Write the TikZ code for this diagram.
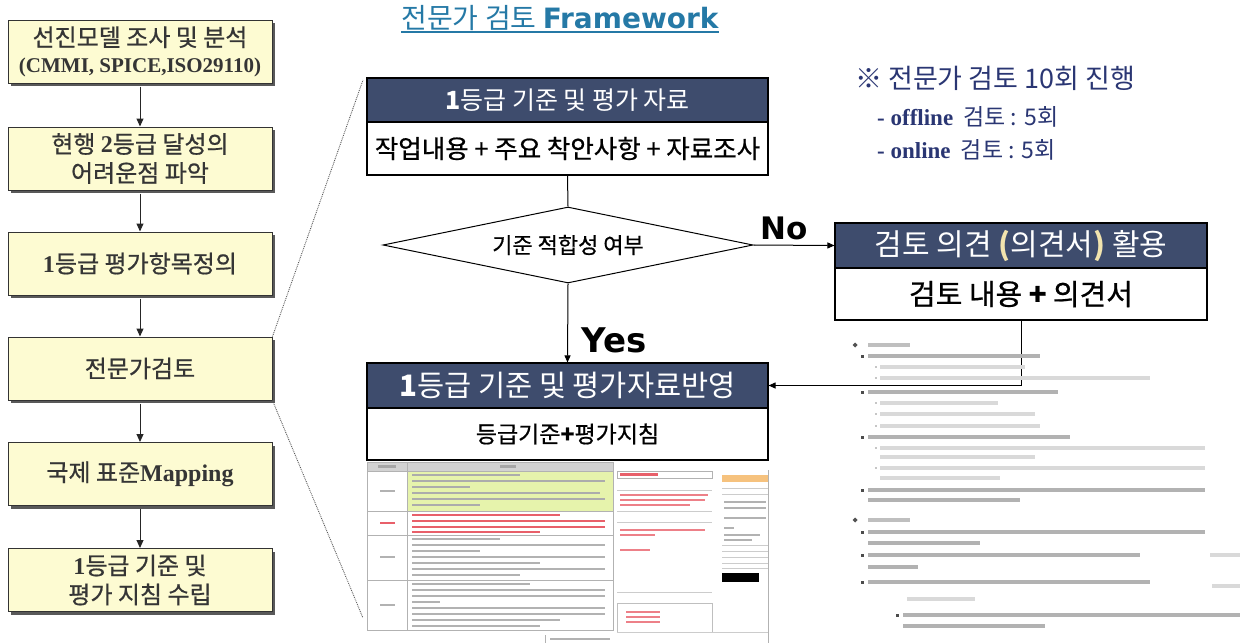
\documentclass[tikz,border=0pt]{standalone}
\usepackage{fontspec}
\setmainfont{Noto Sans CJK KR}
\newfontfamily\krmed{Noto Sans CJK KR}[FakeBold=0.7]
\newfontfamily\lserif{Liberation Serif}
\newfontfamily\verd{DejaVu Sans}
\usetikzlibrary{arrows.meta,shapes.geometric,shadows,calc}

\definecolor{boxyellow}{HTML}{FDFBD2}
\definecolor{boxtext}{HTML}{353535}
\definecolor{hdrblue}{HTML}{3E4C6D}
\definecolor{titleblue}{HTML}{2579A6}
\definecolor{notenavy}{HTML}{2A3673}
\definecolor{rowgreen}{HTML}{E6F3AC}
\definecolor{docred}{HTML}{E8606A}
\definecolor{orangebar}{HTML}{F6C27E}
\definecolor{parengold}{HTML}{F2E4AE}

% a blurred line of small print: [colour]{x1}{x2}{y}
\newcommand{\docbar}[4][gray!55]{\fill[#1] (#2,#4-1.3) rectangle (#3,#4+1.3);}
% a slightly heavier line of print for the opinion sheet
\newcommand{\notebar}[4][gray!55]{\fill[#1] (#2,#4-1.9) rectangle (#3,#4+1.9);}

\tikzset{
  stepbox/.style={draw=black!80, line width=1pt, fill=boxyellow,
    minimum width=264pt, minimum height=63pt, inner sep=0pt, align=center,
    text=boxtext, font=\krmed\fontsize{24}{29}\selectfont,
    drop shadow={shadow xshift=3pt, shadow yshift=-3pt, fill=black!65, opacity=1}},
  flowarrow/.style={-{Triangle[length=8pt,width=7pt]}, line width=1pt, black!85},
  linkarrow/.style={-{Triangle[length=7pt,width=6pt]}, line width=1pt, black},
  hdrbox/.style={draw=black, line width=1.1pt, fill=hdrblue, text=white,
    inner sep=0pt, minimum width=401pt, minimum height=44pt},
  bodybox/.style={draw=black, line width=1.1pt, fill=white, text=black,
    inner sep=0pt, minimum width=401pt},
  zoomline/.style={densely dotted, line width=0.9pt, gray!70!black},
  tbl/.style={draw=gray!60, line width=0.6pt},
}

\begin{document}
\begin{tikzpicture}[x=1pt,y=-1pt]
\useasboundingbox (0,0) rectangle (1252,643);

% ---------- process steps (left column) ----------
\node[stepbox] (s1) at (140,51.5) {선진모델 조사 및 분석\\[-3pt]{\lserif\bfseries\fontsize{21}{24}\selectfont (CMMI, SPICE,ISO29110)}};
\node[stepbox] (s2) at (140,158.5) {현행 {\lserif\bfseries 2}등급 달성의\\어려운점 파악};
\node[stepbox] (s3) at (140,263.5) {{\lserif\bfseries 1}등급 평가항목정의};
\node[stepbox] (s4) at (140,368.5) {전문가검토};
\node[stepbox] (s5) at (140,474) {국제 표준{\lserif\bfseries Mapping}};
\node[stepbox] (s6) at (140,580) {{\lserif\bfseries 1}등급 기준 및\\평가 지침 수립};

\draw[flowarrow] ([yshift=-3pt]s1.south) -- (s2.north);
\draw[flowarrow] ([yshift=-3pt]s2.south) -- (s3.north);
\draw[flowarrow] ([yshift=-3pt]s3.south) -- (s4.north);
\draw[flowarrow] ([yshift=-3pt]s4.south) -- (s5.north);
\draw[flowarrow] ([yshift=-3pt]s5.south) -- (s6.north);

% ---------- title ----------
\node[anchor=base, inner sep=0pt, text=titleblue, font=\fontsize{28}{32}\selectfont] (title) at (560,28)
  {전문가 검토 {\verd\bfseries Framework}};
\draw[titleblue, line width=1.2pt] ([yshift=-4pt]title.base west) -- ([yshift=-4pt]title.base east);

% ---------- notes ----------
\node[anchor=west, inner sep=0pt, text=notenavy, font=\fontsize{27}{30}\selectfont] (n1) at (855,78) {※ 전문가 검토 10회 진행};
\node[anchor=west, inner sep=0pt, text=notenavy, font=\fontsize{23}{26}\selectfont] (n2) at (877,117) {{\lserif\bfseries - offline}\ \ 검토 : 5회};
\node[anchor=west, inner sep=0pt, text=notenavy, font=\fontsize{23}{26}\selectfont] (n3) at (877,150) {{\lserif\bfseries - online}\ \ 검토 : 5회};

% ---------- framework flow ----------
\node[hdrbox, font=\fontsize{25}{28}\selectfont] (h1) at (567.5,100) {{\bfseries 1}등급 기준 및 평가 자료};
\node[bodybox, minimum height=53pt, font=\krmed\fontsize{25.5}{28}\selectfont] (b1) at (567.5,148.5) {작업내용 + 주요 착안사항 + 자료조사};

\node[diamond, draw=black, line width=1pt, fill=white, aspect=4.87, minimum width=370pt, minimum height=76pt,
  inner sep=0pt, font=\krmed\fontsize{22}{24}\selectfont] (d) at (568,245) {기준 적합성 여부};

\node[hdrbox, minimum width=372pt, minimum height=45pt, font=\fontsize{30}{32}\selectfont] (h3) at (1021,245.5)
  {검토 의견 {\color{parengold}\bfseries (}의견서{\color{parengold}\bfseries )} 활용};
\node[bodybox, minimum width=372pt, minimum height=52pt, font=\krmed\fontsize{29}{32}\selectfont] (b3) at (1021,294)
  {검토 내용 {\bfseries +} 의견서};

\node[hdrbox, minimum height=45pt, font=\fontsize{29.5}{32}\selectfont] (h2) at (567.5,385.5) {{\bfseries 1}등급 기준 및 평가자료반영};
\node[bodybox, minimum height=52pt, font=\krmed\fontsize{23}{26}\selectfont] (b2) at (567.5,434) {등급기준{\bfseries +}평가지침};

\draw[line width=1pt] (b1.south) -- (d.north);
\draw[linkarrow] (d.east) -- (h3.west);
\draw[linkarrow] (d.south) -- (h2.north);
\draw[linkarrow] (b3.south) |- (h2.east);

\node[font=\verd\bfseries\fontsize{31}{33}\selectfont, inner sep=0pt] (no) at (784,228) {No};
\node[font=\verd\bfseries\fontsize{34}{36}\selectfont, inner sep=0pt] (yes) at (614,340) {Yes};

% ---------- criteria table excerpt ----------
\fill[white] (364,461) rectangle (772,643);
\draw[tbl, fill=white] (367,462) rectangle (613,630);
\fill[gray!35] (367.5,462.5) rectangle (612.5,471);
\fill[rowgreen] (408,471.5) rectangle (612.5,510.5);
\draw[tbl] (407,462) -- (407,630);
\foreach \yy in {471,511,535,580} \draw[tbl] (367,\yy) -- (613,\yy);
\docbar[gray!70]{378}{396}{466.5}
\docbar[gray!70]{500}{516}{466.5}
\docbar[gray!60]{380}{395}{491}
\docbar[docred]{380}{395}{523}
\docbar[gray!60]{380}{395}{557}
\docbar[gray!60]{380}{395}{605}
\foreach \yy/\xe in {475/520,481/605,487/470,493/600,499/605,505/480} {\docbar[gray!65]{412}{\xe}{\yy}}
\foreach \yy/\xe in {515/560,521/605,527/605,532/540} {\docbar[docred]{412}{\xe}{\yy}}
\foreach \yy/\xe in {539/500,545/605,551/480,557/605,563/540,569/605,575/520} {\docbar[gray!60]{412}{\xe}{\yy}}
\foreach \yy/\xe in {584/530,590/605,596/605,602/440,608/605,614/605,620/560,626/540} {\docbar[gray!60]{412}{\xe}{\yy}}

% ---------- form excerpt ----------
\draw[gray!60, line width=0.6pt] (617,471) rectangle (712,478);
\docbar[docred]{620}{658}{474.5}
\draw[gray!40, line width=0.6pt] (617,490) -- (712,490);
\foreach \yy/\xe in {495/708,500/705,505/690} {\docbar[docred!80]{620}{\xe}{\yy}}
\draw[gray!40, line width=0.6pt] (617,511) -- (712,511);
\draw[gray!40, line width=0.6pt] (617,522) -- (712,522);
\foreach \yy/\xe in {530/705,535/655,550/650} {\docbar[docred!80]{620}{\xe}{\yy}}
\draw[gray!40, line width=0.6pt] (617,592) -- (712,592);
\draw[gray!50, line width=0.6pt] (617,603) rectangle (712,632);
\foreach \yy in {612,617,622} {\docbar[docred!80]{626}{660}{\yy}}
\fill[orangebar] (722,475) rectangle (768,482);
\foreach \yy in {488,494,545,551,557,563,568} \draw[gray!40, line width=0.5pt] (722,\yy) -- (768,\yy);
\foreach \yy/\xe in {502/766,508/766,518/766,528/734,535/760,540/752} {\docbar[gray!60]{724}{\xe}{\yy}}
\fill[black] (722,573) rectangle (759,582);
\draw[gray!60, line width=0.7pt] (768,470) -- (768,643);
\draw[gray!60, line width=0.6pt] (545,635) -- (545,643);
\docbar[gray!60]{550}{610}{639}
\draw[gray!40, line width=0.5pt] (617,632) -- (768,632);

% ---------- review opinion excerpt ----------
\fill[gray!65!black] (855,342.5) -- (857.5,345) -- (855,347.5) -- (852.5,345) -- cycle;
\fill[gray!65!black] (855,517.5) -- (857.5,520) -- (855,522.5) -- (852.5,520) -- cycle;
\notebar[gray!50]{868}{910}{345}
\notebar[gray!50]{868}{910}{520}
\foreach \yy in {356,392,437,490,532,555,582} {\fill[gray!60!black] (861,\yy-1.5) rectangle (864,\yy+1.5);}
\fill[gray!60!black] (896,613.5) rectangle (899,616.5);
\foreach \yy/\xe in {356/1040,392/1058,437/1070,490/1205,500/1020,532/1205,543/980,555/1140,567/918,582/1150} {\notebar[gray!60]{868}{\xe}{\yy}}
\foreach \yy/\xe in {615/1240,626/1045} {\notebar[gray!60]{903}{\xe}{\yy}}
\foreach \yy in {367,378,403,414,426,448,468} {\fill[gray!45] (874.5,\yy-1) rectangle (876.5,\yy+1);}
\foreach \yy/\xe in {367/1025,378/1150,403/998,414/1035,426/1040,448/1205,457/1035,468/1205,478/1000} {\notebar[gray!30]{880}{\xe}{\yy}}
\notebar[gray!30]{1210}{1240}{555}
\notebar[gray!30]{1212}{1240}{586}
\notebar[gray!30]{907}{975}{599}

% ---------- zoom guides from the review step ----------
\coordinate (zt) at (363,80);
\coordinate (zb) at (363,618);
\draw[zoomline] (s4.north east) -- (zt);
\draw[zoomline] (s4.south east) -- (zb);
\end{tikzpicture}
\end{document}
